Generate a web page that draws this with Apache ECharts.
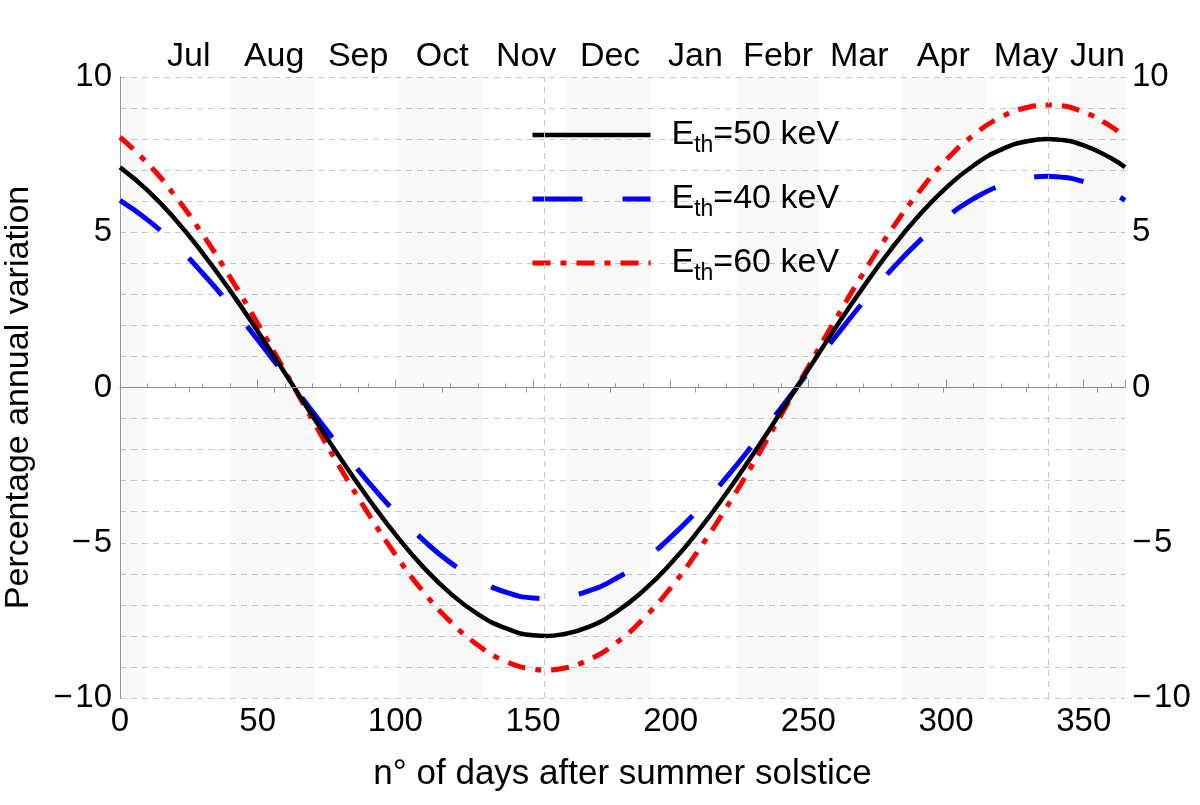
<!DOCTYPE html>
<html><head><meta charset="utf-8">
<script src="https://cdn.jsdelivr.net/npm/echarts@6/dist/echarts.min.js"></script>
<style>html,body{margin:0;padding:0;background:#fff}#c{width:1200px;height:805px}</style>
</head><body><div id="c"></div>
<script>
// Days after summer solstice where curve values were read
const days = [0,10,20,30,40,50,60,70,80,90,100,110,120,130,140,150,155,160,170,180,190,200,210,220,230,240,250,260,270,280,290,300,310,320,330,337,340,350,360,365];
// E_th = 50 keV (black, solid)
const e50 = [7.09,6.35,5.42,4.33,3.12,1.81,0.45,-0.93,-2.27,-3.55,-4.73,-5.77,-6.63,-7.30,-7.75,-7.98,-8.00,-7.96,-7.72,-7.24,-6.55,-5.67,-4.62,-3.43,-2.14,-0.79,0.58,1.94,3.24,4.45,5.52,6.43,7.15,7.66,7.94,8.00,7.99,7.80,7.38,7.09];
// E_th = 40 keV (blue, dashed)
const e40 = [6.03,5.40,4.61,3.68,2.65,1.54,0.38,-0.79,-1.93,-3.02,-4.02,-4.90,-5.64,-6.20,-6.59,-6.78,-6.80,-6.77,-6.56,-6.16,-5.57,-4.82,-3.93,-2.92,-1.82,-0.67,0.50,1.65,2.76,3.78,4.69,5.47,6.08,6.51,6.75,6.80,6.79,6.63,6.27,6.03];
// E_th = 60 keV (red, dot-dashed)
const e60 = [8.06,7.22,6.17,4.93,3.55,2.06,0.51,-1.06,-2.59,-4.04,-5.38,-6.56,-7.54,-8.30,-8.82,-9.07,-9.10,-9.06,-8.78,-8.24,-7.45,-6.45,-5.25,-3.90,-2.44,-0.90,0.67,2.21,3.69,5.06,6.28,7.32,8.13,8.71,9.03,9.10,9.09,8.87,8.40,8.06];
const monthNames = ['Jul','Aug','Sep','Oct','Nov','Dec','Jan','Febr','Mar','Apr','May','Jun'];
const monthCenters = [25,56,86.5,117,147.5,178,209,239,268.5,299,329,355];
const shadedMonths = [[0,9],[40,71],[101,132],[162,193],[224,254],[284,315],[345,365]];
const extremaDays = [154,337];
const seriesLabels = {e50:'50 keV', e40:'40 keV', e60:'60 keV'};

const FONT = '"Liberation Sans", Arial, sans-serif';
const pair = arr => days.map((d,i)=>[d,arr[i]]);
const minusFmt = v => v < 0 ? '\u2212\u200a' + Math.abs(v) : String(v);
const gridDash = {color:'#c9c9c9', type:[6,5], width:1};

const chart = echarts.init(document.getElementById('c'), null, {renderer:'canvas'});
chart.setOption({
  animation:false,
  backgroundColor:'#fff',
  textStyle:{fontFamily:FONT},
  grid:{left:120, right:75, top:77, bottom:107, containLabel:false, outerBoundsMode:'none'},
  legend:{
    data:['e50','e40','e60'],
    orient:'vertical', left:525, top:113,
    itemWidth:118, itemHeight:20, itemGap:25,
    itemStyle:{opacity:0, color:'rgba(0,0,0,0)', borderColor:'rgba(0,0,0,0)', borderWidth:0},
    lineStyle:{width:'inherit'},
    formatter: n => '{e|E}{s|th}{e|=' + seriesLabels[n] + '}',
    textStyle:{
      padding:[0,0,0,16],
      rich:{
        e:{fontSize:34, lineHeight:44, color:'#000', fontFamily:FONT},
        s:{fontSize:23, lineHeight:23, verticalAlign:'bottom', color:'#000', fontFamily:FONT}
      }
    }
  },
  xAxis:[{
    type:'value', position:'bottom', min:0, max:365, interval:50,
    name:'n° of days after summer solstice', nameLocation:'middle', nameGap:59,
    nameTextStyle:{fontSize:35, color:'#000', fontFamily:FONT},
    axisLine:{show:true, lineStyle:{color:'#999', width:1}},
    axisTick:{show:true, inside:true, length:8, lineStyle:{color:'#999'}},
    minorTick:{show:true, splitNumber:5, length:4, lineStyle:{color:'#999'}},
    axisLabel:{fontSize:33, color:'#000', margin:7, fontFamily:FONT},
    splitLine:{show:false}
  },{
    type:'value', position:'top', min:0, max:365,
    axisLine:{show:true, lineStyle:{color:'#999', width:1}},
    axisTick:{show:true, inside:true, length:5, customValues:monthCenters, lineStyle:{color:'#999'}},
    axisLabel:{fontSize:34, color:'#000', margin:3, fontFamily:FONT, customValues:monthCenters,
      formatter:(v)=>{ let k=0, b=1e9; monthCenters.forEach((c,i)=>{ if(Math.abs(c-v)<b){b=Math.abs(c-v);k=i;} }); return monthNames[k]; }},
    splitLine:{show:false}
  }],
  yAxis:[{
    type:'value', position:'left', min:-10, max:10, interval:5,
    name:'Percentage annual variation', nameLocation:'middle', nameGap:84,
    nameTextStyle:{fontSize:34, color:'#000', fontFamily:FONT, padding:[0,20,0,0]},
    axisLine:{show:true, lineStyle:{color:'#999', width:1}},
    axisTick:{show:false},
    axisLabel:{fontSize:33, color:'#000', margin:8, fontFamily:FONT, formatter:minusFmt},
    splitLine:{show:true, lineStyle:gridDash},
    minorTick:{show:false, splitNumber:5},
    minorSplitLine:{show:true, lineStyle:gridDash}
  },{
    type:'value', position:'right', min:-10, max:10, interval:5,
    axisLine:{show:true, lineStyle:{color:'#999', width:1}},
    axisTick:{show:false},
    axisLabel:{fontSize:33, color:'#000', margin:7, fontFamily:FONT, formatter:minusFmt},
    splitLine:{show:false}
  }],
  series:[{
    name:'e40', type:'line', data:pair(e40), smooth:true, showSymbol:false, symbol:'none',
    lineStyle:{color:'#0000ff', width:5, type:[50,40], cap:'butt'},
    itemStyle:{color:'#0000ff'},
    markArea:{silent:true, itemStyle:{color:'rgba(0,0,0,0.028)'},
      data: shadedMonths.map(r=>[{xAxis:r[0]},{xAxis:r[1]}])},
    markLine:{silent:true, symbol:'none', label:{show:false},
      data:[...extremaDays.map(d=>({xAxis:d, lineStyle:gridDash})),
            {yAxis:0, lineStyle:{color:'#8a8a8a', type:'solid', width:1}}]},
    z:2
  },{
    name:'e60', type:'line', data:pair(e60), smooth:true, showSymbol:false, symbol:'none',
    lineStyle:{color:'#ff0000', width:5, type:[18,10,6,10], cap:'butt'},
    itemStyle:{color:'#ff0000'}, z:3
  },{
    name:'e50', type:'line', data:pair(e50), smooth:true, showSymbol:false, symbol:'none',
    lineStyle:{color:'#000', width:4.5, type:'solid'},
    itemStyle:{color:'#000'}, z:4
  }]
});
</script></body></html>
